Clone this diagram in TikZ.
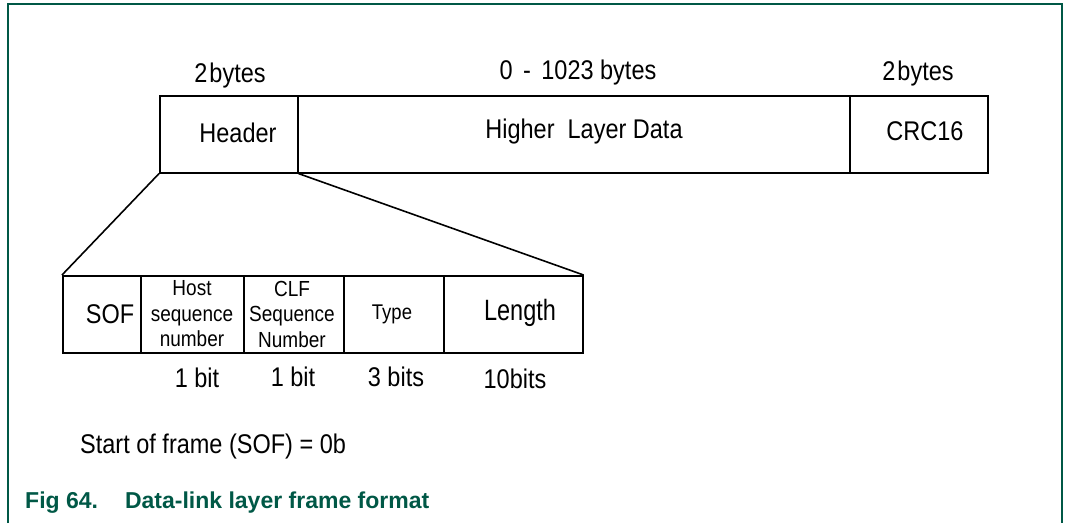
\documentclass[tikz,border=0pt]{standalone}
\usepackage{fontspec}
\setmainfont{Liberation Sans}
\definecolor{nxpgreen}{RGB}{0,88,70}
\newcommand{\vs}[1]{\scalebox{1}[1.15]{#1}}
\begin{document}
\begin{tikzpicture}[x=1pt,y=-1pt,
  box/.style={draw=black, line width=1.6pt, minimum width=#1, anchor=north west, inner sep=0pt},
  lbl/.style={inner sep=0pt, font=\fontsize{23.5}{26}\selectfont},
  sml/.style={inner sep=0pt, align=center, font=\fontsize{19}{25.5}\selectfont},
  conn/.style={line width=1.6pt}]
\useasboundingbox (0,0) rectangle (1065,523);
\draw[nxpgreen, line width=1.5pt] (8,523) -- (8,4) -- (1062,4) -- (1062,523);
% top row
\node[box=138pt, minimum height=77pt] (hdr) at (159,95) {};
\node[box=552pt, minimum height=77pt] (hld) at (297,95) {};
\node[box=138pt, minimum height=77pt] (crc) at (849,95) {};
\node[lbl] (thdr) at (238,133) {\vs{Header}};
\node[lbl] (thld) at (584,132) {\vs{Higher~ Layer Data}};
\node[lbl] (tcrc) at (925,131) {\vs{CRC16}};
\node[lbl] (shdr) at (230,76) {\vs{2\hspace{2pt}bytes}};
\node[lbl] (shld) at (578,73) {\vs{0 \,-\, 1023 bytes}};
\node[lbl] (scrc) at (918,74) {\vs{2\hspace{2pt}bytes}};
% bottom row
\node[box=78pt, minimum height=77pt] (sof) at (62,275) {};
\node[box=103pt, minimum height=77pt] (host) at (140,275) {};
\node[box=100pt, minimum height=77pt] (clf) at (243,275) {};
\node[box=100pt, minimum height=77pt] (type) at (343,275) {};
\node[box=139pt, minimum height=77pt] (len) at (443,275) {};
\node[lbl] (tsof) at (110,314) {\vs{SOF}};
\node[sml] (thost) at (192,314) {\vs{Host}\\\vs{sequence}\\\vs{number}};
\node[sml] (tclf) at (292,314) {\vs{CLF}\\\vs{Sequence}\\\vs{Number}};
\node[lbl, font=\fontsize{18.5}{22}\selectfont] (ttype) at (392,314) {\vs{Type}};
\node[lbl] (tlen) at (520,313) {\scalebox{1}[1.25]{Length}};
\node[lbl] (b1) at (197,378) {\vs{1 bit}};
\node[lbl] (b2) at (293,377) {\vs{1 bit}};
\node[lbl] (b3) at (396,377) {\vs{3 bits}};
\node[lbl] (b4) at (515,379) {\vs{10bits}};
\draw[conn] (hdr.south west) -- (sof.north west);
\draw[conn] (hdr.south east) -- (len.north east);
\node[lbl, anchor=west] (note) at (80,446) {\vs{Start of frame (SOF) = 0b}};
\node[inner sep=0pt, anchor=west, text=nxpgreen, font=\fontsize{23}{26}\selectfont\bfseries] (cap) at (25,503) {Fig 64.\hspace{27pt}Data-link layer frame format};
\end{tikzpicture}
\end{document}
